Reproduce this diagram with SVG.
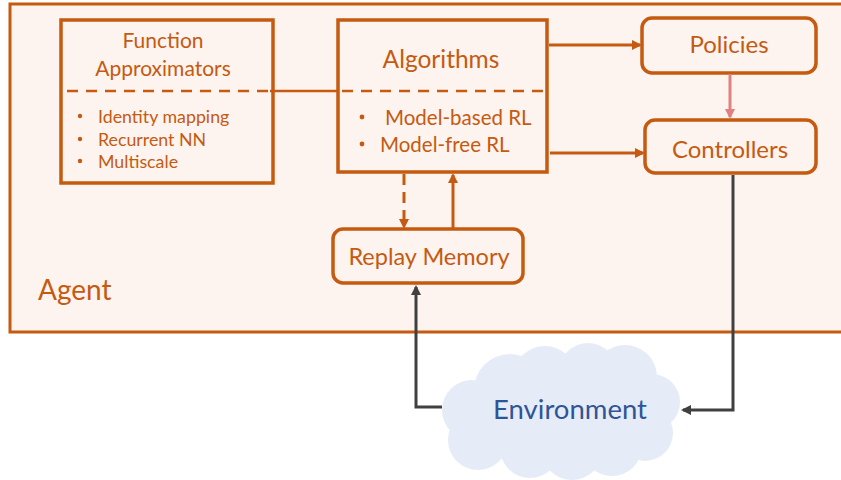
<svg xmlns="http://www.w3.org/2000/svg" width="841" height="480" viewBox="0 0 841 480">
<defs>
<style>
.box{fill:none;stroke:#C55A11;stroke-width:3.5}
.t{font-family:Lato,"Liberation Sans",sans-serif;fill:#C55A11}
.ln{fill:none;stroke:#C55A11;stroke-width:3}
.dk{fill:none;stroke:#404040;stroke-width:3}
</style>
<marker id="ao" markerWidth="10" markerHeight="10" refX="8" refY="5" orient="auto" markerUnits="userSpaceOnUse"><path d="M0,0 L10,5 L0,10 z" fill="#C55A11"/></marker>
<marker id="ap" markerWidth="10" markerHeight="10" refX="8" refY="5" orient="auto" markerUnits="userSpaceOnUse"><path d="M0,0 L10,5 L0,10 z" fill="#E08080"/></marker>
<marker id="ad" markerWidth="10" markerHeight="10" refX="8" refY="5" orient="auto" markerUnits="userSpaceOnUse"><path d="M0,0 L10,5 L0,10 z" fill="#404040"/></marker>
</defs>
<rect width="841" height="480" fill="#ffffff"/>
<g id="agent">
<rect x="10" y="4" width="840" height="328" fill="#FDF4EF" stroke="#C55A11" stroke-width="3"/>
<text class="t" x="38" y="300" font-size="28">Agent</text>
</g>
<g id="function-approximators">
<rect class="box" x="61" y="20" width="212" height="163"/>
<text class="t" x="163" y="48" font-size="21" text-anchor="middle">Function</text>
<text class="t" x="163" y="76" font-size="21" text-anchor="middle">Approximators</text>
<circle cx="80" cy="116" r="2.2" fill="#C55A11"/>
<circle cx="80" cy="139" r="2.2" fill="#C55A11"/>
<circle cx="80" cy="161" r="2.2" fill="#C55A11"/>
<text class="t" x="98" y="123" font-size="17.8">Identity mapping</text>
<text class="t" x="98" y="146" font-size="17.8">Recurrent NN</text>
<text class="t" x="98" y="168" font-size="17.8">Multiscale</text>
</g>
<g id="algorithms">
<rect class="box" x="338" y="20" width="209" height="152"/>
<text class="t" x="441" y="68" font-size="24.5" text-anchor="middle">Algorithms</text>
<circle cx="362" cy="117" r="2.4" fill="#C55A11"/>
<circle cx="362" cy="144" r="2.4" fill="#C55A11"/>
<text class="t" x="385" y="125" font-size="20.5">Model-based RL</text>
<text class="t" x="380" y="152" font-size="20.5">Model-free RL</text>
</g>
<g id="policies">
<rect class="box" x="642" y="18" width="174" height="55" rx="10"/>
<text class="t" x="729" y="53" font-size="24" text-anchor="middle">Policies</text>
</g>
<g id="controllers">
<rect class="box" x="645" y="120" width="171" height="53" rx="10"/>
<text class="t" x="730" y="158" font-size="24" text-anchor="middle">Controllers</text>
</g>
<g id="replay-memory">
<rect class="box" x="333" y="229" width="190" height="54" rx="10"/>
<text class="t" x="429" y="265" font-size="23.5" text-anchor="middle">Replay Memory</text>
</g>
<g id="environment">
<g fill="#E6ECF7">
<circle cx="510" cy="390" r="36"/>
<circle cx="545" cy="378" r="32"/>
<circle cx="588" cy="372" r="29"/>
<circle cx="625" cy="377" r="32"/>
<circle cx="652" cy="402" r="28"/>
<circle cx="645" cy="433" r="28"/>
<circle cx="472" cy="410" r="30"/>
<circle cx="478" cy="440" r="30"/>
<circle cx="530" cy="448" r="30"/>
<circle cx="572" cy="450" r="30"/>
<circle cx="612" cy="446" r="30"/>
<ellipse cx="560" cy="412" rx="100" ry="50"/>
</g>
<text x="570" y="419" font-family="Lato,'Liberation Sans',sans-serif" font-size="27.5" fill="#2F5597" text-anchor="middle">Environment</text>
</g>
<g id="connectors">
<line x1="270" y1="91" x2="338" y2="91" stroke="#C55A11" stroke-width="2.5"/>
<line x1="67" y1="91" x2="270" y2="91" stroke="#C55A11" stroke-width="2.5" stroke-dasharray="11 8"/>
<line x1="342" y1="91" x2="543" y2="91" stroke="#C55A11" stroke-width="2.5" stroke-dasharray="11 8"/>
<line class="ln" x1="549" y1="45" x2="640" y2="45" marker-end="url(#ao)"/>
<line class="ln" x1="550" y1="153" x2="643" y2="153" marker-end="url(#ao)"/>
<line x1="730" y1="74" x2="730" y2="117" stroke="#E08080" stroke-width="3" marker-end="url(#ap)"/>
<line class="ln" x1="404" y1="174" x2="404" y2="227" stroke-dasharray="11 7" marker-end="url(#ao)"/>
<line class="ln" x1="453" y1="229" x2="453" y2="175" marker-end="url(#ao)"/>
<polyline class="dk" points="442,407 416,407 416,287" marker-end="url(#ad)"/>
<polyline class="dk" points="733,175 733,410 683,410" marker-end="url(#ad)"/>
</g>
</svg>
